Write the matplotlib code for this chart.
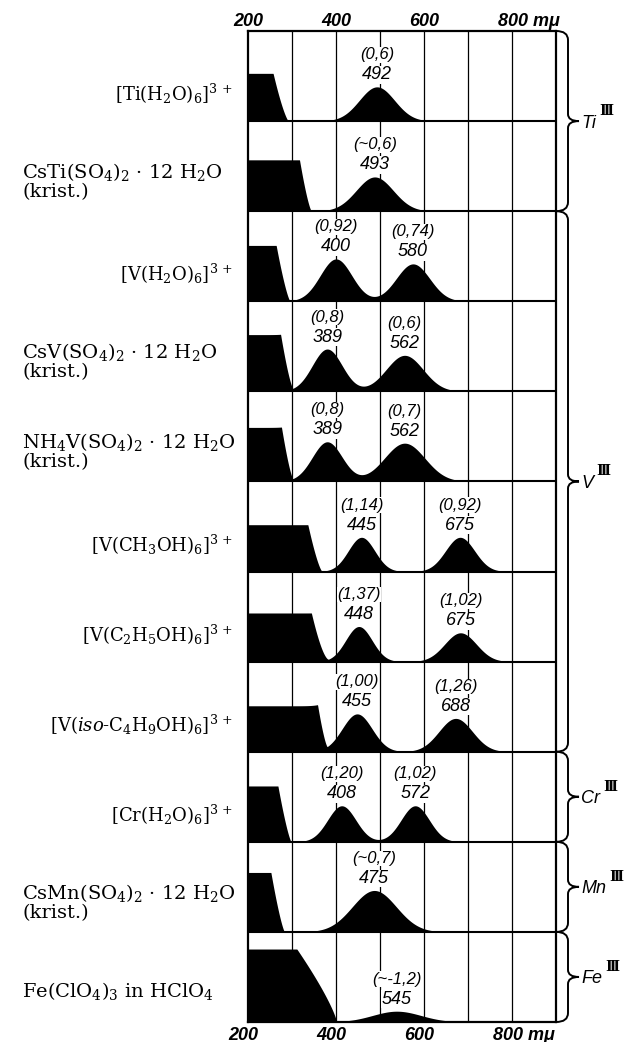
import numpy as np
import matplotlib
matplotlib.use("Agg")
import matplotlib.pyplot as plt
from matplotlib.path import Path
from matplotlib.patches import PathPatch

W, H = 625, 1042
plt.rcParams['mathtext.fontset'] = 'dejavuserif'

# ---- values ----
compounds = [
    (r"[Ti(H$_2$O)$_6$]$^{3\,+}$", None),
    (r"CsTi(SO$_4$)$_2$ · 12 H$_2$O", "(krist.)"),
    (r"[V(H$_2$O)$_6$]$^{3\,+}$", None),
    (r"CsV(SO$_4$)$_2$ · 12 H$_2$O", "(krist.)"),
    (r"NH$_4$V(SO$_4$)$_2$ · 12 H$_2$O", "(krist.)"),
    (r"[V(CH$_3$OH)$_6$]$^{3\,+}$", None),
    (r"[V(C$_2$H$_5$OH)$_6$]$^{3\,+}$", None),
    (r"[V($\it{iso}$-C$_4$H$_9$OH)$_6$]$^{3\,+}$", None),
    (r"[Cr(H$_2$O)$_6$]$^{3\,+}$", None),
    (r"CsMn(SO$_4$)$_2$ · 12 H$_2$O", "(krist.)"),
    (r"Fe(ClO$_4$)$_3$ in HClO$_4$", None),
]

# UV edge: height (fraction of panel), end of flat part, foot (nm), curvature
edge_height = [0.53, 0.57, 0.62, 0.63, 0.60, 0.52, 0.54, 0.51, 0.62, 0.66, 0.81]
edge_flat = [257, 317, 264, 274, 276, 336, 344, 358, 268, 252, 311]
edge_foot = [292, 344, 295, 302, 302, 368, 383, 380, 298, 283, 401]
edge_power = [1.35, 1.35, 1.3, 1.3, 1.3, 1.35, 1.5, 1.3, 1.3, 1.3, 0.8]

# bands: drawn centre (nm), height (fraction of panel), width (nm)
band_center = [[493], [488], [400, 575], [380, 556], [380, 556], [458, 682],
               [452, 683], [448, 672], [413, 580], [487], [538]]
band_height = [[0.38], [0.38], [0.47, 0.415], [0.47, 0.40], [0.44, 0.425],
               [0.38, 0.38], [0.39, 0.32], [0.42, 0.37], [0.40, 0.40], [0.46], [0.12]]
band_width = [[40], [42], [36, 38], [34, 42], [34, 46], [30, 33],
              [30, 36], [34, 38], [32, 32], [50], [55]]
band_nm = [["492"], ["493"], ["400", "580"], ["389", "562"], ["389", "562"],
           ["445", "675"], ["448", "675"], ["455", "688"], ["408", "572"],
           ["475"], ["545"]]
band_eps = [["(0,6)"], ["(~0,6)"], ["(0,92)", "(0,74)"], ["(0,8)", "(0,6)"],
            ["(0,8)", "(0,7)"], ["(1,14)", "(0,92)"], ["(1,37)", "(1,02)"],
            ["(1,00)", "(1,26)"], ["(1,20)", "(1,02)"], ["(~0,7)"], ["(~-1,2)"]]

groups = [("Ti", 0, 2), ("V", 2, 8), ("Cr", 8, 9), ("Mn", 9, 10), ("Fe", 10, 11)]
tick_nm = [200, 400, 600, 800]
grid_nm = [300, 400, 500, 600, 700, 800]

n = len(compounds)
x0_px, x1_px, y0_px, y1_px = 248, 556, 31, 1022
unit_px = (y1_px - y0_px) / n

hand = ['Liberation Sans', 'DejaVu Sans']
serif = ['DejaVu Serif']


def fx(x):
    return x / W


def fy(y):
    return 1 - y / H


fig = plt.figure(figsize=(W / 100, H / 100), dpi=100)
ax = fig.add_axes([fx(x0_px), fy(y1_px), (x1_px - x0_px) / W, (y1_px - y0_px) / H])
ax.set_xlim(200, 900)
ax.set_ylim(0, n)
ax.set_xticks([])
ax.set_yticks([])
for s in ax.spines.values():
    s.set_linewidth(1.6)

for g in grid_nm:
    ax.axvline(g, color='black', lw=0.9, zorder=1)
for k in range(1, n):
    ax.axhline(k, color='black', lw=1.5, zorder=4)

x = np.linspace(200, 900, 1400)
for i in range(n):
    base = n - 1 - i
    t = np.clip((x - edge_flat[i]) / (edge_foot[i] - edge_flat[i]), 0, 1)
    y = edge_height[i] * (1 - t) ** edge_power[i]
    for c, h, w in zip(band_center[i], band_height[i], band_width[i]):
        y = y + h * np.exp(-0.5 * ((x - c) / w) ** 2)
    ax.fill_between(x, base, base + y, color='black', lw=0, zorder=3)

    for c, h, lab, eps in zip(band_center[i], band_height[i], band_nm[i], band_eps[i]):
        ylab = base + h + 12 / unit_px
        ax.text(c, ylab, lab, ha='center', va='center', family=hand, style='italic',
                fontsize=13, zorder=5,
                bbox=dict(fc='white', ec='none', pad=0.2))
        ax.text(c, ylab + 20 / unit_px, eps, ha='center', va='center', family=hand,
                style='italic', fontsize=12, zorder=5,
                bbox=dict(fc='white', ec='none', pad=0.2))

    # compound names on the left
    top_px = y0_px + i * unit_px
    main, second = compounds[i]
    if second is None and i != n - 1:
        fig.text(fx(233), fy(top_px + 63), main, ha='right', va='center',
                 family=serif, fontsize=13)
    elif second is None:
        fig.text(fx(22), fy(top_px + 59), main, ha='left', va='center',
                 family=serif, fontsize=14)
    else:
        fig.text(fx(22), fy(top_px + 51), main, ha='left', va='center',
                 family=serif, fontsize=14)
        fig.text(fx(22), fy(top_px + 71), second, ha='left', va='center',
                 family=serif, fontsize=14)

# wavelength labels top and bottom
for v in tick_nm:
    lab = "800 m\u03bc" if v == 800 else str(v)
    xp = x0_px + (v - 200) * (x1_px - x0_px) / 700
    ha = 'center'
    if v == 800:
        xp -= 14
        ha = 'left'
    fig.text(fx(xp), fy(26), lab, ha=ha, va='baseline', family=hand,
             style='italic', fontsize=13, weight='bold')
    fig.text(fx(xp - 5), fy(1040), lab, ha=ha, va='baseline', family=hand,
             style='italic', fontsize=13, weight='bold')


# braces on the right
def brace(ya, yb):
    xs, xv, xt, r = 556, 568, 579, 9
    ym = (ya + yb) / 2
    verts = [(xs, ya), (xv, ya), (xv, ya + r), (xv, ym - 7), (xv, ym), (xt, ym),
             (xv, ym), (xv, ym + 7), (xv, yb - r), (xv, yb), (xs, yb)]
    codes = [Path.MOVETO, Path.CURVE3, Path.CURVE3, Path.LINETO, Path.CURVE3,
             Path.CURVE3, Path.CURVE3, Path.CURVE3, Path.LINETO, Path.CURVE3,
             Path.CURVE3]
    verts = [(fx(a), fy(b)) for a, b in verts]
    fig.add_artist(PathPatch(Path(verts, codes), fc='none', ec='black', lw=1.4,
                             transform=fig.transFigure))
    return ym


for name, a, b in groups:
    ym = brace(y0_px + a * unit_px, y0_px + b * unit_px)
    t = fig.text(fx(581), fy(ym + 2), name, ha='left', va='center', family=hand,
                 style='italic', fontsize=13)
    fig.canvas.draw()
    bb = t.get_window_extent()
    fig.text(bb.x1 / W + 3 / W, fy(ym - 10), "\u2162", ha='left', va='center',
             family=serif, weight='bold', fontsize=10)

fig.savefig("out.png", dpi=100)
